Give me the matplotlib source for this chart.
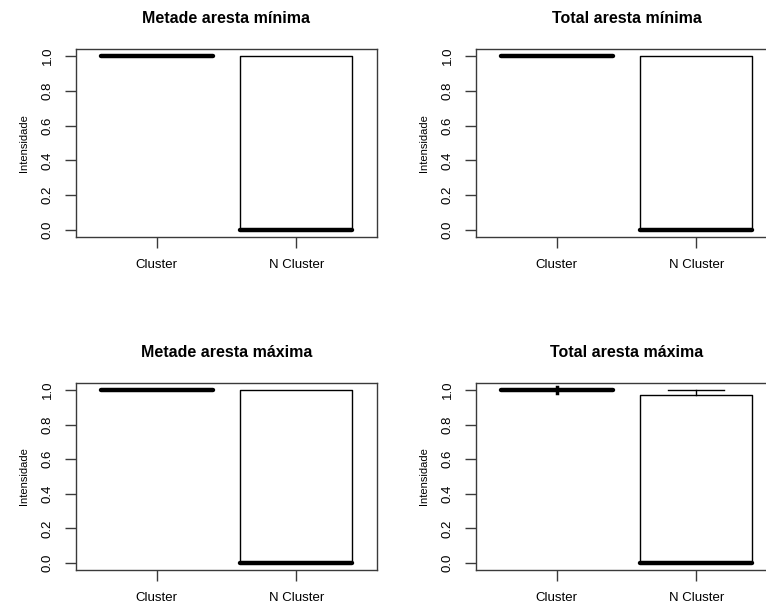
import numpy as np
import matplotlib.pyplot as plt

plt.rcParams['font.family'] = ['Liberation Sans', 'DejaVu Sans']

# group names and panel titles
groups = ["Cluster", "N Cluster"]
titles = ["Metade aresta mínima", "Total aresta mínima",
          "Metade aresta máxima", "Total aresta máxima"]

# five-number summaries per panel: [whislo, q1, med, q3, whishi] for each group
panel_stats = [
    [[1.0, 1.0, 1.0, 1.0, 1.0], [0.0, 0.0, 0.0, 1.0, 1.0]],
    [[1.0, 1.0, 1.0, 1.0, 1.0], [0.0, 0.0, 0.0, 1.0, 1.0]],
    [[1.0, 1.0, 1.0, 1.0, 1.0], [0.0, 0.0, 0.0, 1.0, 1.0]],
    [[0.985, 1.0, 1.0, 1.0, 1.0], [0.0, 0.0, 0.0, 0.97, 1.0]],
]
yticks = [0.0, 0.2, 0.4, 0.6, 0.8, 1.0]

W, H = 766, 605
fig = plt.figure(figsize=(W / 100, H / 100), dpi=100)

# axes rectangles in pixels: left, top, width, height
rects = [(76, 49, 301, 188), (476, 49, 301, 188),
         (76, 383, 301, 187), (476, 383, 301, 187)]

frame = '#3a3a3a'
for i, (l, t, w, h) in enumerate(rects):
    ax = fig.add_axes([l / W, 1 - (t + h) / H, w / W, h / H])
    stats = []
    for g, s in zip(groups, panel_stats[i]):
        stats.append(dict(label=g, whislo=s[0], q1=s[1], med=s[2],
                          q3=s[3], whishi=s[4], fliers=[]))
    # small caps only where the whisker is long enough to show
    caps = [0.0 if s[4] - s[3] < 0.02 else 0.4 for s in panel_stats[i]]
    ax.bxp(stats, positions=[1, 2], widths=0.8, capwidths=caps,
           showfliers=False,
           boxprops=dict(color='black', linewidth=1),
           medianprops=dict(color='black', linewidth=3.2, solid_capstyle='round'),
           whiskerprops=dict(color='black', linewidth=1, linestyle='-'),
           capprops=dict(color='black', linewidth=1))
    if i == 3:
        # short whisker on the first group drawn heavier
        ax.plot([1, 1], [panel_stats[i][0][0], 1.015], color='black', lw=2.5)
    ax.set_xlim(0.42, 2.58)
    ax.set_ylim(-0.04, 1.04)
    ax.set_yticks(yticks)
    ax.set_yticklabels([f"{v:.1f}" for v in yticks], rotation=90, va='center')
    ax.set_xticks([1, 2])
    ax.set_xticklabels(groups)
    ax.tick_params(axis='both', length=8, width=1, color=frame,
                   labelsize=9.5, pad=8)
    for sp in ax.spines.values():
        sp.set_color(frame)
        sp.set_linewidth(1)
    ax.set_ylabel("Intensidade", fontsize=8, labelpad=9)
    ax.set_title(titles[i], fontsize=11.5, fontweight='bold', pad=19)

fig.savefig("out.png", dpi=100)
